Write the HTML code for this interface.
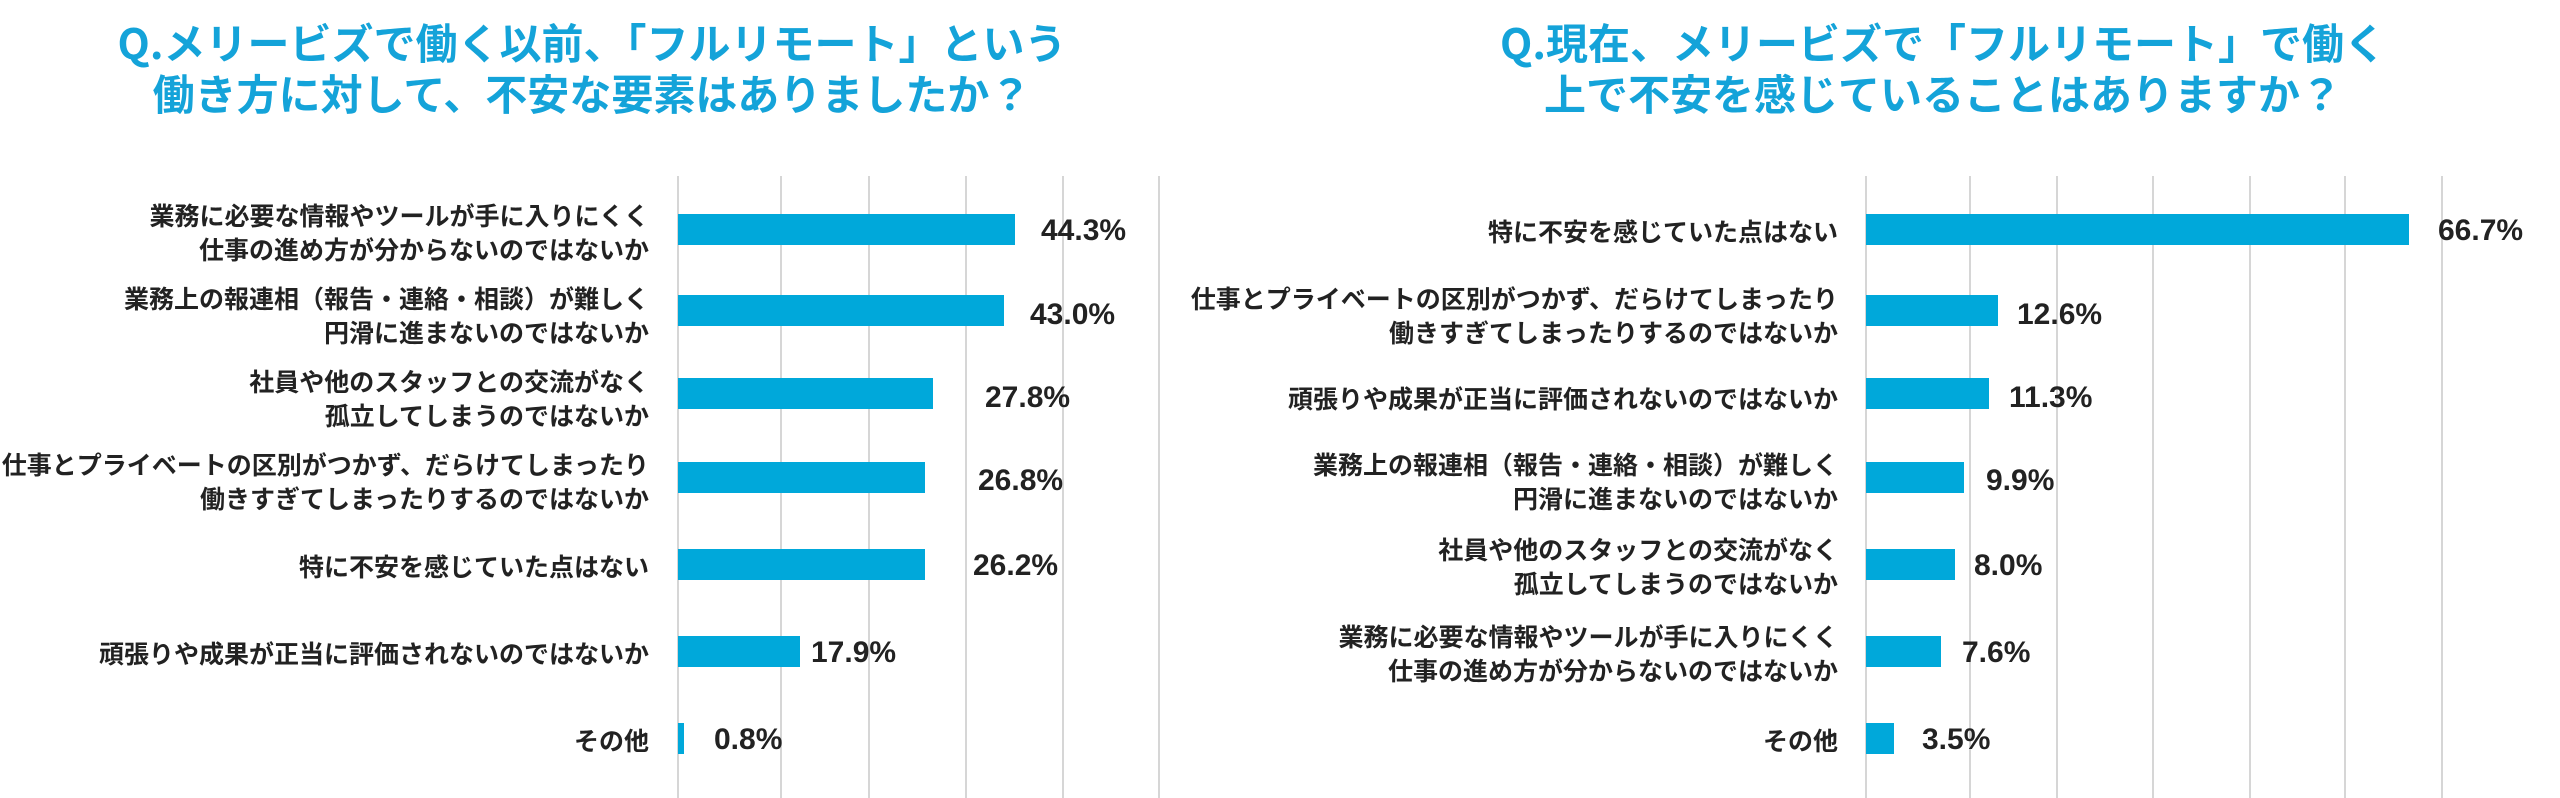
<!DOCTYPE html>
<html><head><meta charset="utf-8"><style>
body{margin:0;width:2560px;height:798px;background:#fff;position:relative;overflow:hidden;font-family:"Liberation Sans","Noto Sans CJK JP",sans-serif}
.t{position:absolute;color:#14a3d9;font-weight:bold;font-size:42px;font-family:"Noto Sans CJK JP",sans-serif;text-align:center;line-height:51px;white-space:nowrap;transform:translateX(-50%)}
.g{position:absolute;top:176px;height:622px;width:2px;background:#d6d6d6}
.b{position:absolute;height:31px;background:#00a8da}
.c{position:absolute;text-align:right;font-family:"Noto Sans CJK JP",sans-serif;font-weight:bold;font-size:25px;line-height:34px;color:#222;white-space:nowrap;transform:translateY(-50%)}
.v{position:absolute;font-family:"Liberation Sans",sans-serif;font-weight:bold;font-size:30px;color:#222;transform:translateY(-50%);white-space:nowrap}
</style></head><body>
<div class="t" style="left:592px;top:16px">Q.メリービズで働く以前、「フルリモート」という<br>働き方に対して、不安な要素はありましたか？</div>
<div class="t" style="left:1943px;top:16px">Q.現在、メリービズで「フルリモート」で働く<br>上で不安を感じていることはありますか？</div>

<div class="g" style="left:677px"></div><div class="g" style="left:780px"></div><div class="g" style="left:868px"></div><div class="g" style="left:965px"></div><div class="g" style="left:1062px"></div><div class="g" style="left:1158px"></div>
<div class="g" style="left:1865px"></div><div class="g" style="left:1969px"></div><div class="g" style="left:2056px"></div><div class="g" style="left:2152px"></div><div class="g" style="left:2249px"></div><div class="g" style="left:2344px"></div><div class="g" style="left:2441px"></div>

<!-- left -->
<div class="b" style="left:678px;top:214px;width:337px"></div>
<div class="b" style="left:678px;top:295px;width:326px"></div>
<div class="b" style="left:678px;top:378px;width:255px"></div>
<div class="b" style="left:678px;top:462px;width:247px"></div>
<div class="b" style="left:678px;top:549px;width:247px"></div>
<div class="b" style="left:678px;top:636px;width:122px"></div>
<div class="b" style="left:678px;top:723px;width:6px"></div>
<div class="v" style="left:1041px;top:231px">44.3%</div>
<div class="v" style="left:1030px;top:315px">43.0%</div>
<div class="v" style="left:985px;top:398px">27.8%</div>
<div class="v" style="left:978px;top:481px">26.8%</div>
<div class="v" style="left:973px;top:566px">26.2%</div>
<div class="v" style="left:811px;top:653px">17.9%</div>
<div class="v" style="left:714px;top:740px">0.8%</div>
<div class="c" style="right:1911px;top:232px">業務に必要な情報やツールが手に入りにくく<br>仕事の進め方が分からないのではないか</div>
<div class="c" style="right:1911px;top:315px">業務上の報連相（報告・連絡・相談）が難しく<br>円滑に進まないのではないか</div>
<div class="c" style="right:1911px;top:398px">社員や他のスタッフとの交流がなく<br>孤立してしまうのではないか</div>
<div class="c" style="right:1911px;top:481px">仕事とプライベートの区別がつかず、だらけてしまったり<br>働きすぎてしまったりするのではないか</div>
<div class="c" style="right:1911px;top:566px">特に不安を感じていた点はない</div>
<div class="c" style="right:1911px;top:653px">頑張りや成果が正当に評価されないのではないか</div>
<div class="c" style="right:1911px;top:740px">その他</div>

<!-- right -->
<div class="b" style="left:1866px;top:214px;width:543px"></div>
<div class="b" style="left:1866px;top:295px;width:132px"></div>
<div class="b" style="left:1866px;top:378px;width:123px"></div>
<div class="b" style="left:1866px;top:462px;width:98px"></div>
<div class="b" style="left:1866px;top:549px;width:89px"></div>
<div class="b" style="left:1866px;top:636px;width:75px"></div>
<div class="b" style="left:1866px;top:723px;width:28px"></div>
<div class="v" style="left:2438px;top:231px">66.7%</div>
<div class="v" style="left:2017px;top:315px">12.6%</div>
<div class="v" style="left:2009px;top:398px">11.3%</div>
<div class="v" style="left:1986px;top:481px">9.9%</div>
<div class="v" style="left:1974px;top:566px">8.0%</div>
<div class="v" style="left:1962px;top:653px">7.6%</div>
<div class="v" style="left:1922px;top:740px">3.5%</div>
<div class="c" style="right:722px;top:231px">特に不安を感じていた点はない</div>
<div class="c" style="right:722px;top:315px">仕事とプライベートの区別がつかず、だらけてしまったり<br>働きすぎてしまったりするのではないか</div>
<div class="c" style="right:722px;top:398px">頑張りや成果が正当に評価されないのではないか</div>
<div class="c" style="right:722px;top:481px">業務上の報連相（報告・連絡・相談）が難しく<br>円滑に進まないのではないか</div>
<div class="c" style="right:722px;top:566px">社員や他のスタッフとの交流がなく<br>孤立してしまうのではないか</div>
<div class="c" style="right:722px;top:653px">業務に必要な情報やツールが手に入りにくく<br>仕事の進め方が分からないのではないか</div>
<div class="c" style="right:722px;top:740px">その他</div>
</body></html>
